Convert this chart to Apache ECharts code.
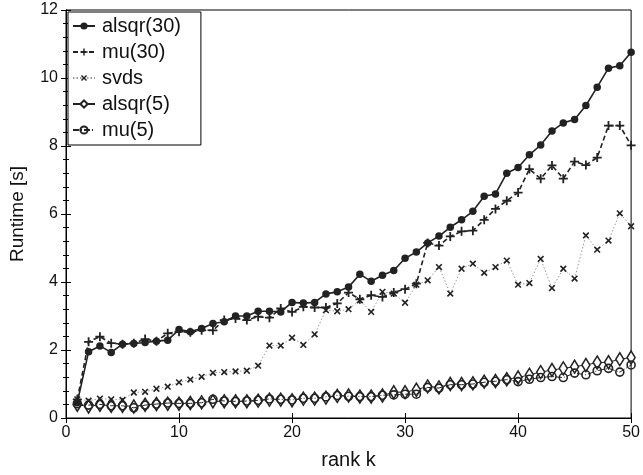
<!DOCTYPE html>
<html>
<head>
<meta charset="utf-8">
<script src="https://cdn.jsdelivr.net/npm/echarts@6/dist/echarts.min.js"></script>
<style>html,body{margin:0;padding:0;background:#fff}#c{width:643px;height:475px}</style>
</head>
<body>
<div id="c"></div>
<script>
const ranks = Array.from({length: 50}, (_, i) => i + 1);
const alsqr30 = [0.45,1.95,2.12,1.93,2.17,2.19,2.22,2.26,2.29,2.6,2.54,2.63,2.78,2.83,3.0,3.0,3.14,3.14,3.12,3.4,3.38,3.4,3.65,3.71,3.85,4.23,4.02,4.2,4.34,4.7,4.88,5.15,5.35,5.61,5.83,6.08,6.52,6.59,7.2,7.37,7.74,8.03,8.44,8.68,8.78,9.19,9.73,10.29,10.36,10.76];
const mu30 = [0.55,2.24,2.39,2.2,2.17,2.2,2.32,2.26,2.49,2.54,2.52,2.58,2.58,2.88,2.93,2.88,2.98,2.95,3.22,3.12,3.27,3.25,3.25,3.37,3.69,3.49,3.61,3.56,3.69,3.79,3.95,5.15,5.07,5.34,5.49,5.51,5.83,6.15,6.39,6.63,7.32,7.04,7.43,7.04,7.54,7.44,7.66,8.6,8.6,8.02];
const svds = [0.55,0.51,0.57,0.55,0.53,0.75,0.77,0.86,0.92,1.05,1.13,1.21,1.33,1.35,1.37,1.39,1.54,2.13,2.13,2.36,2.15,2.46,3.17,3.14,3.2,3.46,3.12,3.71,3.66,3.39,3.92,4.05,4.44,3.66,4.39,4.54,4.27,4.44,4.63,3.92,3.97,4.68,3.82,4.39,4.1,5.37,4.95,5.22,6.02,5.64];
const alsqr5 = [0.39,0.34,0.39,0.36,0.36,0.34,0.39,0.41,0.42,0.42,0.44,0.46,0.49,0.49,0.49,0.49,0.51,0.54,0.54,0.52,0.57,0.57,0.6,0.65,0.66,0.63,0.63,0.66,0.76,0.76,0.83,0.93,0.9,1.0,1.0,1.02,1.07,1.09,1.14,1.19,1.27,1.35,1.41,1.46,1.51,1.56,1.63,1.64,1.73,1.78];
const mu5 = [0.42,0.38,0.4,0.36,0.36,0.3,0.38,0.41,0.44,0.43,0.43,0.45,0.55,0.5,0.49,0.5,0.52,0.56,0.55,0.53,0.58,0.58,0.62,0.66,0.64,0.63,0.63,0.67,0.68,0.7,0.7,0.9,0.88,0.98,0.98,1.0,1.05,1.08,1.13,1.07,1.14,1.19,1.22,1.19,1.32,1.27,1.39,1.46,1.35,1.56];
const names = ['alsqr(30)', 'mu(30)', 'svds', 'alsqr(5)', 'mu(5)'];
const xTicks = [0, 10, 20, 30, 40, 50];
const yTicks = [0, 2, 4, 6, 8, 10, 12];

const pair = arr => ranks.map((k, i) => [k, arr[i]]);
const plusPath = 'path://M4,0L6,0L6,4L10,4L10,6L6,6L6,10L4,10L4,6L0,6L0,4L4,4Z';
const FONT = 'Liberation Sans, Arial, Helvetica, sans-serif';
const CLEAR = 'rgba(255,255,255,0)';

const chart = echarts.init(document.getElementById('c'), null, {renderer: 'canvas'});
const baseAxisLine = {show: true, lineStyle: {color: '#000', width: 1}};
const option = {
  animation: false,
  backgroundColor: '#fff',
  grid: {left: 66, right: 11, top: 10, bottom: 55, show: true, borderColor: '#000', borderWidth: 1, backgroundColor: 'transparent'},
  legend: {
    orient: 'vertical', left: 68, top: 12,
    data: names,
    backgroundColor: '#fff', borderColor: '#000', borderWidth: 1,
    padding: [4, 20, 5, 4], itemGap: 6, itemWidth: 22, itemHeight: 9,
    textStyle: {fontFamily: FONT, fontSize: 20, color: '#111', padding: [0, 0, 0, 2]},
    inactiveColor: '#000'
  },
  xAxis: [{
    type: 'value', min: xTicks[0], max: xTicks[xTicks.length - 1], interval: 10,
    name: 'rank k', nameLocation: 'middle', nameGap: 32,
    nameTextStyle: {fontFamily: FONT, fontSize: 20, color: '#111'},
    axisLine: baseAxisLine,
    axisTick: {show: true, inside: true, length: 5, lineStyle: {color: '#000'}},
    axisLabel: {fontFamily: FONT, fontSize: 16, color: '#111', margin: 7},
    splitLine: {show: false}
  }, {
    type: 'value', position: 'top', min: 0, max: 50, interval: 10,
    axisLine: baseAxisLine,
    axisTick: {show: true, inside: true, length: 5, lineStyle: {color: '#000'}},
    axisLabel: {show: false}, splitLine: {show: false}
  }],
  yAxis: [{
    type: 'value', min: yTicks[0], max: yTicks[yTicks.length - 1], interval: 2,
    name: 'Runtime [s]', nameLocation: 'middle', nameGap: 39,
    nameTextStyle: {fontFamily: FONT, fontSize: 19, color: '#111'},
    axisLine: baseAxisLine,
    axisTick: {show: true, inside: true, length: 5, lineStyle: {color: '#000'}},
    minorTick: {show: true, splitNumber: 5, length: 3, lineStyle: {color: '#000'}},
    axisLabel: {fontFamily: FONT, fontSize: 16, color: '#111', margin: 8},
    splitLine: {show: false}
  }, {
    type: 'value', position: 'right', min: 0, max: 12, interval: 2,
    axisLine: baseAxisLine,
    axisTick: {show: true, inside: true, length: 5, lineStyle: {color: '#000'}},
    minorTick: {show: true, splitNumber: 5, length: 3, lineStyle: {color: '#000'}},
    axisLabel: {show: false}, splitLine: {show: false}
  }],
  series: [
    {name: names[0], type: 'line', data: pair(alsqr30), symbol: 'circle', symbolSize: 7.5,
     itemStyle: {color: '#222'}, lineStyle: {color: '#222', width: 1.6, type: 'solid'}, z: 6},
    {name: names[1], type: 'line', data: pair(mu30), symbol: plusPath, symbolSize: 9,
     itemStyle: {color: '#222'}, lineStyle: {color: '#222', width: 1.6, type: [5, 3]}, z: 5},
    {name: names[2], type: 'line', data: pair(svds), symbol: plusPath, symbolRotate: 45, symbolSize: 8,
     itemStyle: {color: '#222'}, lineStyle: {color: '#999', width: 1, type: [1.5, 2]}, z: 4},
    {name: names[3], type: 'line', data: pair(alsqr5), symbol: 'diamond', symbolSize: [8, 13],
     itemStyle: {color: '#fff', borderColor: '#222', borderWidth: 1.6}, lineStyle: {color: '#222', width: 1, type: 'solid'}, z: 2},
    {name: names[4], type: 'line', data: pair(mu5), symbol: 'circle', symbolSize: 8,
     itemStyle: {color: CLEAR, borderColor: '#222', borderWidth: 1.6}, lineStyle: {color: '#222', width: 1, type: [6, 2, 1, 2]}, z: 3}
  ].map(s => Object.assign(s, {emphasis: {disabled: true}, silent: true, showAllSymbol: true}))
};
chart.setOption(option);
</script>
</body>
</html>
